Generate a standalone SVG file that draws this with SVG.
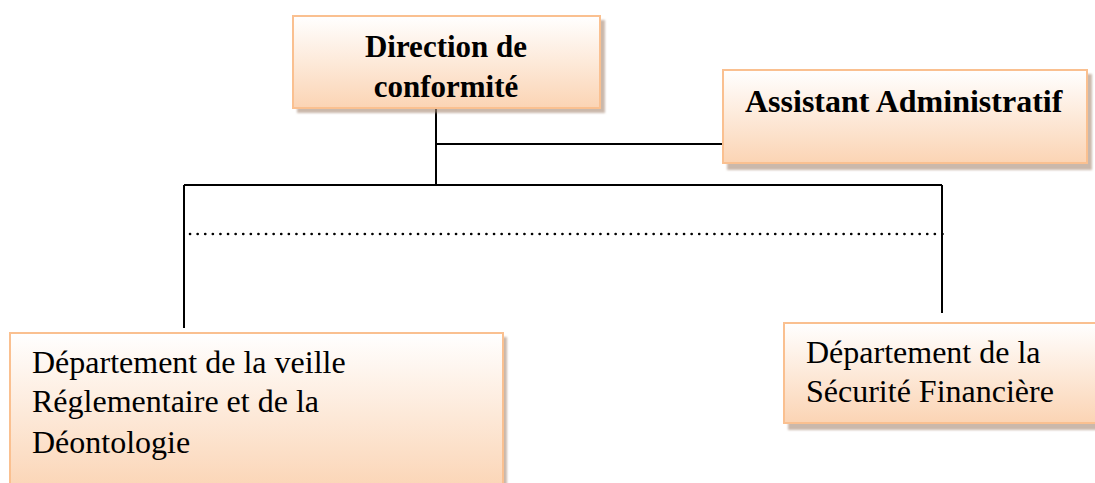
<svg xmlns="http://www.w3.org/2000/svg" width="1095" height="483" viewBox="0 0 1095 483">
<style>
.box{fill:url(#peach);stroke:#fac090;stroke-width:2}
.shadow{fill:#a88a74;opacity:0.6}
.line{stroke:#000;stroke-width:2;fill:none}
.dot{stroke:#000;stroke-width:2.6;fill:none;stroke-dasharray:0.1 7.5;stroke-linecap:round}
.b{font-family:"Liberation Serif","Times New Roman",serif;font-weight:bold;fill:#000}
.r{font-family:"Liberation Serif","Times New Roman",serif;fill:#000}
</style>
<defs>
<linearGradient id="peach" x1="0" y1="0" x2="0" y2="1">
<stop offset="0" stop-color="#ffffff"/>
<stop offset="1" stop-color="#fbd4b4"/>
</linearGradient>
<filter id="blur" x="-10%" y="-10%" width="120%" height="120%"><feGaussianBlur stdDeviation="1.2"/></filter>
</defs>
<rect width="1095" height="483" fill="#fff"/>
<g id="connectors">
<line class="line" x1="436" y1="108" x2="436" y2="185"/>
<line class="line" x1="436" y1="144" x2="723" y2="144"/>
<line class="line" x1="184" y1="185" x2="942" y2="185"/>
<line class="line" x1="184" y1="185" x2="184" y2="328"/>
<line class="line" x1="942" y1="185" x2="942" y2="313"/>
<line class="dot" x1="190" y1="234" x2="945" y2="234"/>
</g>
<g id="direction">
<rect class="shadow" filter="url(#blur)" x="297" y="20" width="308" height="93"/>
<rect class="box" x="293" y="16" width="307" height="92"/>
<text class="b" x="446" y="57" font-size="31" text-anchor="middle">Direction de</text>
<text class="b" x="446" y="97" font-size="31" text-anchor="middle">conformité</text>
</g>
<g id="assistant">
<rect class="shadow" filter="url(#blur)" x="727" y="74" width="365" height="96"/>
<rect class="box" x="723" y="70" width="364" height="93"/>
<text class="b" x="745" y="112" font-size="32">Assistant Administratif</text>
</g>
<g id="dept-veille">
<rect class="shadow" filter="url(#blur)" x="14" y="337" width="493" height="160"/>
<rect class="box" x="10" y="333" width="493" height="160"/>
<text class="r" x="32" y="373" font-size="32">Département de la veille</text>
<text class="r" x="32" y="412" font-size="32">Réglementaire et de la</text>
<text class="r" x="32" y="453" font-size="32">Déontologie</text>
</g>
<g id="dept-securite">
<rect class="shadow" filter="url(#blur)" x="788" y="328" width="320" height="102"/>
<rect class="box" x="784" y="323" width="320" height="100"/>
<text class="r" x="806" y="363" font-size="32">Département de la</text>
<text class="r" x="806" y="402" font-size="32">Sécurité Financière</text>
</g>
</svg>
